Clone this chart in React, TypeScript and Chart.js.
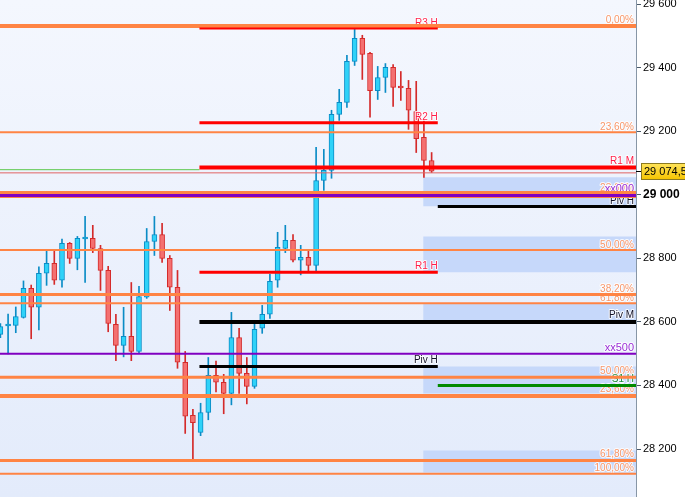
import React, { useEffect, useRef } from "react";
import { Chart, registerables } from "chart.js";

Chart.register(...registerables);

// ---- Candles (OHLC) ----
const candleOpen = [
  28561, 28587, 28589, 28614, 28706, 28646, 28753, 28784, 28731, 28847,
  28800, 28861, 28863, 28831, 28762, 28592, 28526, 28555, 28507, 28678,
  28853, 28875, 28800, 28709, 28473, 28306, 28252, 28315, 28432, 28410,
  28375, 28551, 28438, 28397, 28580, 28624, 28731, 28831, 28857, 28794,
  28803, 28778, 29045, 29077, 29253, 29291, 29420, 29492, 29445, 29328,
  29369, 29401, 29340, 29335, 29262, 29181, 29108,
];
const candleHigh = [
  28595, 28625, 28647, 28729, 28716, 28773, 28824, 28824, 28861, 28850,
  28869, 28932, 28904, 28841, 28775, 28624, 28646, 28724, 28712, 28894,
  28932, 28910, 28809, 28762, 28507, 28325, 28344, 28488, 28477, 28435,
  28630, 28580, 28488, 28599, 28652, 28750, 28882, 28904, 28875, 28841,
  28822, 29149, 29143, 29266, 29332, 29439, 29524, 29502, 29448, 29404,
  29413, 29410, 29388, 29360, 29357, 29237, 29133,
];
const candleLow = [
  28550, 28499, 28566, 28612, 28547, 28575, 28715, 28718, 28709, 28784,
  28764, 28724, 28818, 28699, 28569, 28478, 28490, 28478, 28501, 28674,
  28809, 28787, 28636, 28454, 28249, 28165, 28242, 28292, 28380, 28311,
  28339, 28375, 28342, 28391, 28564, 28611, 28709, 28818, 28789, 28748,
  28758, 28755, 29014, 29052, 29234, 29275, 29407, 29363, 29244, 29300,
  29322, 29278, 29297, 29206, 29133, 29055, 29070,
];
const candleClose = [
  28585, 28591, 28617, 28706, 28646, 28753, 28784, 28731, 28847, 28800,
  28863, 28864, 28831, 28762, 28595, 28526, 28555, 28507, 28680, 28853,
  28875, 28800, 28709, 28473, 28303, 28283, 28315, 28432, 28410, 28375,
  28551, 28438, 28397, 28577, 28624, 28728, 28835, 28857, 28794, 28803,
  28778, 29045, 29077, 29253, 29291, 29420, 29492, 29442, 29328, 29369,
  29401, 29338, 29336, 29266, 29177, 29108, 29074.5,
];

// ---- Axis ----
const yTickValues = [28200, 28400, 28600, 28800, 29000, 29200, 29400, 29600];
const yBoldTick = 29000;
const yMin = 28049;
const yMax = 29613;
const xMin = -0.05;
const xMax = 82.54;

// ---- Price ----
const lastPrice = 29074.5;
const lastPriceText = "29 074,5";
const priceLineValue = 29069;
const prevLevelValue = 29079;

// ---- Fibonacci levels (full width) ----
const fibValues = [29531, 29197, 29001, 28826, 28686, 28659, 28426, 28367, 28164, 28122];
const fibLabels = ["0,00%", "23,60%", "23,60%", "50,00%", "38,20%", "61,80%", "50,00%", "23,60%", "61,80%", "100,00%"];
const fibLineWidths = [4, 2, 7, 2, 3, 2, 3, 4, 3, 2];

// ---- Round numbers ----
const roundValues = [28998, 28500];
const roundLabels = ["xx000", "xx500"];
const roundLineWidths = [3, 2];

// ---- Pivot levels ----
const hourStart = 25.85;
const hourEnd = 56.8;
const hourNames = ["R3 H", "R2 H", "R1 H", "Piv H"];
const hourValues = [29523, 29227, 28756, 28460];
const hourLineWidths = [2, 3, 3, 3];

const monthNames = ["R1 M", "Piv M"];
const monthValues = [29086, 28600];
const monthLineWidths = [4, 4];

const nextNames = ["Piv H", "S1 H"];
const nextValues = [28963, 28400];
const nextLineWidths = [3, 3];

// ---- Zones ----
const zoneStart = 54.9;
const zoneHigh = [29055, 28869, 28658, 28460, 28195];
const zoneLow = [28964, 28756, 28595, 28375, 28126];

const FONT = "'Liberation Sans', Arial, sans-serif";
const ORANGE = "#ff8444";
const ORANGE_TEXT = "#f7966a";
const PURPLE = "#8000c0";
const PURPLE_TEXT = "#9a2fd6";

const pivotColor = (n: string) => (n.startsWith("R") ? "#ff0000" : n.startsWith("S") ? "#008a00" : "#000000");
const pivotTextColor = (n: string) => (n.startsWith("R") ? "#ff1f4a" : n.startsWith("S") ? "#1a8a3a" : "#14142a");

const fmt = (v: number) => String(v).replace(/\B(?=(\d{3})+(?!\d))/g, " ");

export default function App() {
  const ref = useRef<HTMLCanvasElement | null>(null);

  useEffect(() => {
    if (!ref.current) return;
    const idx = candleOpen.map((_, i) => i);
    const up = idx.map((i) => candleClose[i] >= candleOpen[i]);

    const hLine = (value: number, x0: number, x1: number, color: string, width: number, order: number) => ({
      type: "line" as const,
      data: [{ x: x0, y: value }, { x: x1, y: value }],
      borderColor: color,
      borderWidth: width,
      pointRadius: 0,
      fill: false,
      order,
      borderCapStyle: "butt" as const,
    });

    const datasets: any[] = [];

    // zones
    zoneHigh.forEach((hi, k) => {
      datasets.push({
        type: "line",
        data: [{ x: zoneStart, y: hi }, { x: xMax, y: hi }],
        borderWidth: 0,
        borderColor: "rgba(0,0,0,0)",
        backgroundColor: "#c6d8fa",
        pointRadius: 0,
        fill: { value: zoneLow[k] },
        order: 1000,
      });
    });

    // wicks
    datasets.push({
      type: "bar",
      data: idx.map((i) => ({ x: i, y: [candleLow[i], candleHigh[i]] })),
      backgroundColor: idx.map((i) => (up[i] ? "#0a8cc6" : "#d42a2a")),
      borderWidth: 0,
      barThickness: 1,
      grouped: false,
      order: 900,
    });
    // bodies
    const bodiesIndex = datasets.length;
    datasets.push({
      type: "bar",
      data: idx.map((i) => ({
        x: i,
        y: [Math.min(candleOpen[i], candleClose[i]), Math.max(candleOpen[i], candleClose[i])],
      })),
      backgroundColor: idx.map((i) => (up[i] ? "#2fd2f8" : "#f47070")),
      borderColor: idx.map((i) => (up[i] ? "#0a8cc6" : "#d42a2a")),
      borderWidth: 1,
      borderSkipped: false,
      barThickness: 5,
      minBarLength: 2,
      grouped: false,
      order: 800,
    });

    // fib lines
    fibValues.forEach((v, k) => datasets.push(hLine(v, xMin, xMax, ORANGE, fibLineWidths[k], 500)));
    // thin lines
    datasets.push(hLine(prevLevelValue, xMin, hourStart, "#5cc84c", 1, 460));
    datasets.push(hLine(priceLineValue, xMin, xMax, "#e06464", 1, 450));
    // pivots
    hourValues.forEach((v, k) => datasets.push(hLine(v, hourStart, hourEnd, pivotColor(hourNames[k]), hourLineWidths[k], 400)));
    monthValues.forEach((v, k) => datasets.push(hLine(v, hourStart, xMax, pivotColor(monthNames[k]), monthLineWidths[k], 400)));
    nextValues.forEach((v, k) => datasets.push(hLine(v, hourEnd, xMax, pivotColor(nextNames[k]), nextLineWidths[k], 400)));
    // round numbers
    roundValues.forEach((v, k) => datasets.push(hLine(v, xMin, xMax, PURPLE, roundLineWidths[k], 300)));

    type Lbl = { text: string; value: number; xEnd: number | null; lw: number; color: string; size: number };
    const labels: Lbl[] = [];
    fibValues.forEach((v, k) => labels.push({ text: fibLabels[k], value: v, xEnd: null, lw: fibLineWidths[k] > 4 ? 3 : fibLineWidths[k], color: ORANGE_TEXT, size: 10 }));
    nextValues.forEach((v, k) => labels.push({ text: nextNames[k], value: v, xEnd: null, lw: nextLineWidths[k], color: pivotTextColor(nextNames[k]), size: 10 }));
    monthValues.forEach((v, k) => labels.push({ text: monthNames[k], value: v, xEnd: null, lw: monthLineWidths[k], color: pivotTextColor(monthNames[k]), size: 10 }));
    hourValues.forEach((v, k) => labels.push({ text: hourNames[k], value: v, xEnd: hourEnd, lw: hourLineWidths[k], color: pivotTextColor(hourNames[k]), size: 10 }));
    roundValues.forEach((v, k) => labels.push({ text: roundLabels[k], value: v, xEnd: null, lw: roundLineWidths[k], color: PURPLE_TEXT, size: 11 }));

    const bgPlugin = {
      id: "bg",
      beforeDraw(chart: any) {
        const { ctx, chartArea: a, width, height } = chart;
        ctx.save();
        ctx.fillStyle = "#ffffff";
        ctx.fillRect(0, 0, width, height);
        const g = ctx.createLinearGradient(0, a.top, 0, a.bottom);
        g.addColorStop(0, "#f4f7fe");
        g.addColorStop(1, "#e3ebfb");
        ctx.fillStyle = g;
        ctx.fillRect(a.left, a.top, a.right - a.left, a.bottom - a.top);
        ctx.restore();
      },
    };

    const labelPlugin = {
      id: "lvlLabels",
      afterDatasetDraw(chart: any, args: any) {
        if (args.index !== bodiesIndex) return;
        const { ctx, chartArea: a } = chart;
        const xs = chart.scales.x;
        const ys = chart.scales.y;
        ctx.save();
        ctx.textAlign = "right";
        ctx.textBaseline = "alphabetic";
        ctx.lineJoin = "round";
        labels.forEach((l) => {
          const y = ys.getPixelForValue(l.value) - l.lw / 2 - 1.5;
          const x = l.xEnd === null ? a.right - 2 : xs.getPixelForValue(l.xEnd);
          ctx.font = `${l.size}px ${FONT}`;
          ctx.strokeStyle = "rgba(255,255,255,0.85)";
          ctx.lineWidth = 2;
          ctx.strokeText(l.text, x, y);
          ctx.fillStyle = l.color;
          ctx.fillText(l.text, x, y);
        });
        ctx.restore();
      },
    };

    const pricePlugin = {
      id: "priceTag",
      afterDraw(chart: any) {
        const { ctx, chartArea: a, width } = chart;
        const y = Math.round(chart.scales.y.getPixelForValue(lastPrice)) + 0.5;
        ctx.save();
        ctx.strokeStyle = "#000";
        ctx.lineWidth = 1;
        ctx.beginPath();
        ctx.moveTo(a.right, y);
        ctx.lineTo(a.right + 5, y);
        ctx.stroke();
        const x0 = a.right + 5;
        const g = ctx.createLinearGradient(0, y - 8, 0, y + 8);
        g.addColorStop(0, "#ffe45a");
        g.addColorStop(1, "#f5c400");
        ctx.fillStyle = g;
        ctx.fillRect(x0, y - 8, width - x0, 16);
        ctx.strokeStyle = "#8c7a20";
        ctx.strokeRect(x0 + 0.5, y - 8, width - x0, 16);
        ctx.fillStyle = "#000";
        ctx.font = `11px ${FONT}`;
        ctx.textAlign = "left";
        ctx.textBaseline = "middle";
        ctx.fillText(lastPriceText, x0 + 3, y + 0.5);
        ctx.restore();
      },
    };

    const chart = new Chart(ref.current, {
      type: "bar",
      data: { datasets },
      options: {
        animation: false,
        responsive: false,
        maintainAspectRatio: false,
        events: [],
        layout: { padding: 0 },
        plugins: { legend: { display: false }, tooltip: { enabled: false } },
        scales: {
          x: { type: "linear", display: false, min: xMin, max: xMax, offset: false },
          y: {
            type: "linear",
            position: "right",
            min: yMin,
            max: yMax,
            afterBuildTicks: (s: any) => {
              s.ticks = yTickValues.map((v) => ({ value: v }));
            },
            afterFit: (s: any) => {
              s.width = 49;
              s.paddingTop = 0;
              s.paddingBottom = 0;
            },
            grid: { drawOnChartArea: false, drawTicks: true, tickLength: 5, color: "#4a5a6a" },
            border: { display: true, color: "#8796a6", width: 1 },
            ticks: {
              padding: 2,
              color: "#000",
              callback: (v: any) => fmt(Number(v)),
              font: (c: any) =>
                c.tick && c.tick.value === yBoldTick
                  ? { size: 12, weight: "bold", family: FONT }
                  : { size: 11, family: FONT },
            },
          },
        },
      } as any,
      plugins: [bgPlugin, labelPlugin, pricePlugin],
    });
    return () => chart.destroy();
  }, []);

  return (
    <div style={{ position: "absolute", left: 0, top: 0, width: 685, height: 497 }}>
      <canvas ref={ref} width={685} height={497} style={{ display: "block", width: 685, height: 497 }} />
    </div>
  );
}
